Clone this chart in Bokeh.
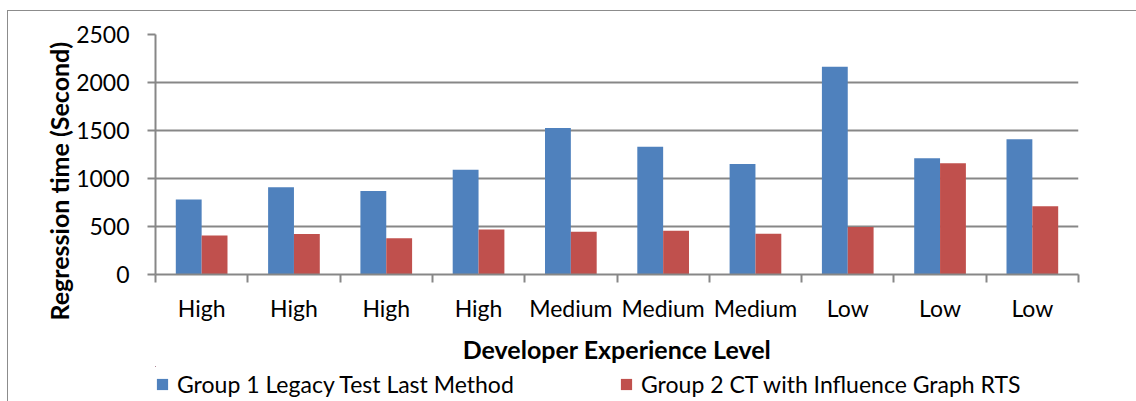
from bokeh.plotting import figure
from bokeh.layouts import column
from bokeh.models import (ColumnDataSource, FixedTicker, Legend, LegendItem, Title, Range1d)
from bokeh.transform import dodge
from bokeh.embed import file_html
from bokeh.resources import INLINE

# ---- data ----
categories = ["High", "High", "High", "High", "Medium", "Medium", "Medium", "Low", "Low", "Low"]
positions = [1, 2, 3, 4, 5, 6, 7, 8, 9, 10]
group1_legacy = [780, 910, 870, 1090, 1525, 1330, 1150, 2165, 1210, 1410]
group2_ct_rts = [405, 422, 377, 470, 446, 456, 425, 495, 1158, 712]
y_ticks = [0, 500, 1000, 1500, 2000, 2500]
series_names = ["Group 1 Legacy Test Last Method", "Group 2 CT with Influence Graph RTS"]
x_title = "Developer Experience Level"
y_title = "Regression time (Second)"

FONT = "Lato"
GRAY = "#878787"
BLUE = "#4F81BD"
RED = "#C0504D"

src = ColumnDataSource(dict(x=positions, g1=group1_legacy, g2=group2_ct_rts))

p = figure(width=1128, height=355, output_backend="svg", toolbar_location=None,
           x_range=Range1d(0.5, 10.5), y_range=Range1d(0, 2500),
           min_border_left=147, min_border_right=58, min_border_top=23, min_border_bottom=91)
p.outline_line_color = None

r1 = p.vbar(x=dodge("x", -0.14, range=p.x_range), top="g1", width=0.28, source=src,
            fill_color=BLUE, line_color=None)
r2 = p.vbar(x=dodge("x", 0.14, range=p.x_range), top="g2", width=0.28, source=src,
            fill_color=RED, line_color=None)

# y axis
p.yaxis.ticker = FixedTicker(ticks=y_ticks)
p.yaxis.axis_line_color = GRAY
p.yaxis.axis_line_width = 2
p.yaxis.major_tick_line_color = GRAY
p.yaxis.major_tick_line_width = 2
p.yaxis.major_tick_out = 8
p.yaxis.major_tick_in = 0
p.yaxis.minor_tick_line_color = None
p.yaxis.major_label_text_font = FONT
p.yaxis.major_label_text_font_size = "23px"
p.yaxis.major_label_text_color = "black"
p.yaxis.major_label_standoff = 18

p.ygrid.ticker = FixedTicker(ticks=y_ticks)
p.ygrid.grid_line_color = GRAY
p.ygrid.grid_line_width = 2
p.xgrid.grid_line_color = None

# x axis
p.xaxis.ticker = FixedTicker(ticks=positions, minor_ticks=[i + 0.5 for i in range(0, 11)])
p.xaxis.major_label_overrides = {k: v for k, v in zip(positions, categories)}
p.xaxis.axis_line_color = GRAY
p.xaxis.axis_line_width = 2
p.xaxis.major_tick_line_color = None
p.xaxis.major_tick_out = 0
p.xaxis.major_tick_in = 0
p.xaxis.minor_tick_line_color = GRAY
p.xaxis.minor_tick_line_width = 2
p.xaxis.minor_tick_out = 8
p.xaxis.minor_tick_in = 0
p.xaxis.major_label_text_font = FONT
p.xaxis.major_label_text_font_size = "23px"
p.xaxis.major_label_text_color = "black"
p.xaxis.major_label_standoff = 11
p.xaxis.axis_label = x_title
p.xaxis.axis_label_text_font = FONT
p.xaxis.axis_label_text_font_size = "25px"
p.xaxis.axis_label_text_font_style = "bold"
p.xaxis.axis_label_text_color = "black"
p.xaxis.axis_label_standoff = 9

# y title as a side-panel title
yt = Title(text=y_title, align="left", offset=-46, standoff=0,
           text_font=FONT, text_font_size="25px", text_font_style="bold",
           text_color="black")
p.add_layout(yt, "left")

# legend strip below the chart (renderers reuse the data but lie outside its view)
leg = figure(width=1128, height=35, output_backend="svg", toolbar_location=None,
             x_range=Range1d(100, 101), y_range=Range1d(-2, -1),
             x_axis_type=None, y_axis_type=None, min_border=0)
leg.outline_line_color = None
leg.grid.visible = False
lr1 = leg.vbar(x="x", top="g1", width=0.28, source=src, fill_color=BLUE, line_color=None)
lr2 = leg.vbar(x="x", top="g2", width=0.28, source=src, fill_color=RED, line_color=None)
legend = Legend(items=[LegendItem(label=series_names[0], renderers=[lr1]),
                       LegendItem(label=series_names[1], renderers=[lr2])],
                orientation="horizontal", location=(0, 3),
                label_text_font=FONT, label_text_font_size="23px", label_text_color="black",
                glyph_width=14, glyph_height=14, label_standoff=8,
                spacing=82, label_width=360, padding=0, margin=0,
                border_line_color=None, background_fill_alpha=0)
leg.add_layout(legend, "center")

layout = column(p, leg, styles={"margin-left": "7px", "margin-top": "10px",
                                "border-left": "1px solid #8c8c8c",
                                "border-top": "1px solid #8c8c8c"})

open("out.html", "w").write(file_html(layout, INLINE))
